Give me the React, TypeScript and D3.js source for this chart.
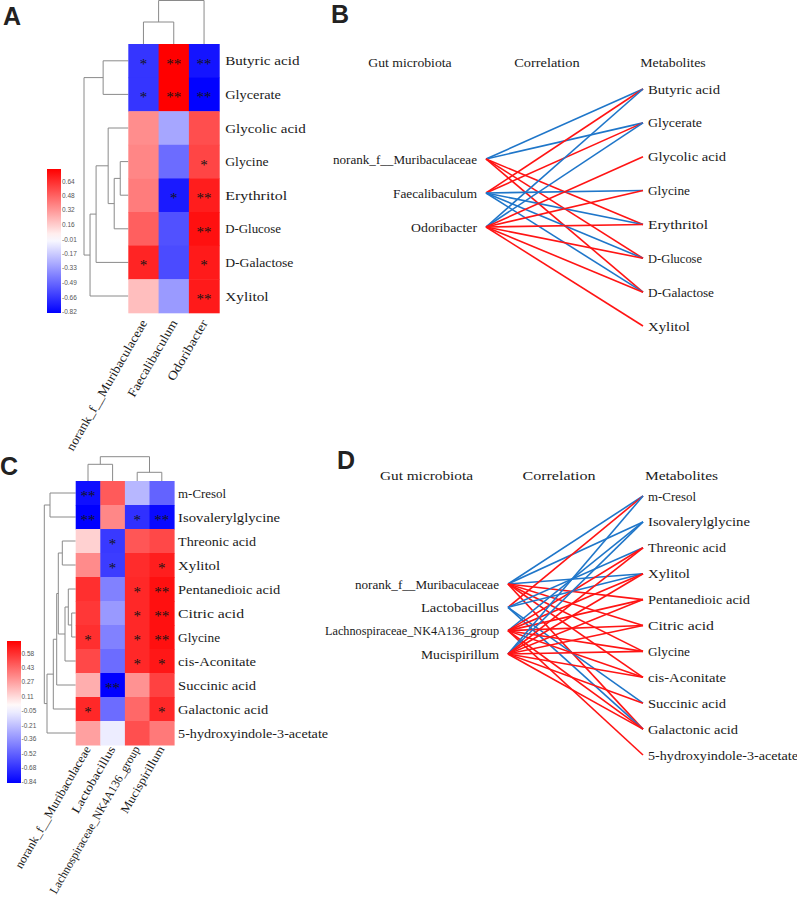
import React from "react";
import * as d3 from "d3";

// ---------------- Panel A / B data ----------------
const aMicrobes = ["norank_f__Muribaculaceae", "Faecalibaculum", "Odoribacter"];
const aMetabolites = ["Butyric acid", "Glycerate", "Glycolic acid", "Glycine", "Erythritol", "D-Glucose", "D-Galactose", "Xylitol"];
// rows = metabolites, cols = microbes
const aValues = [
  [-0.66, 0.79, -0.77],
  [-0.66, 0.79, -0.83],
  [0.35, -0.29, 0.54],
  [0.37, -0.48, 0.57],
  [0.4, -0.75, 0.69],
  [0.49, -0.57, 0.73],
  [0.67, -0.59, 0.7],
  [0.2, -0.33, 0.7],
];
const aStars = [
  ["*", "**", "**"],
  ["*", "**", "**"],
  ["", "", ""],
  ["", "", "*"],
  ["", "*", "**"],
  ["", "", "**"],
  ["*", "", "*"],
  ["", "", "**"],
];
const aTicks = [0.64, 0.48, 0.32, 0.16, -0.01, -0.17, -0.33, -0.49, -0.66, -0.82];
// linkage: [childA, childB, height]
const aRowLinks: [number, number, number][] = [
  [0, 1, 25], [3, 4, 8], [9, 5, 14], [2, 10, 20], [11, 6, 32], [12, 7, 38], [8, 13, 44],
];
const aColLinks: [number, number, number][] = [[0, 1, 22], [3, 2, 43.5]];
// network B edges: [microbe, metabolite, sign]
const bEdges: [number, number, number][] = [
  [0, 0, -1], [0, 1, -1], [0, 4, 1], [0, 5, 1], [0, 6, 1],
  [1, 0, 1], [1, 1, 1], [1, 3, -1], [1, 4, -1], [1, 5, -1], [1, 6, -1],
  [2, 0, -1], [2, 1, -1], [2, 2, 1], [2, 3, 1], [2, 4, 1], [2, 5, 1], [2, 6, 1], [2, 7, 1],
];

// ---------------- Panel C / D data ----------------
const cMicrobes = ["norank_f__Muribaculaceae", "Lactobacillus", "Lachnospiraceae_NK4A136_group", "Mucispirillum"];
const cMetabolites = ["m-Cresol", "Isovalerylglycine", "Threonic acid", "Xylitol", "Pentanedioic acid", "Citric acid", "Glycine", "cis-Aconitate", "Succinic acid", "Galactonic acid", "5-hydroxyindole-3-acetate"];
const cValues = [
  [-0.8, 0.47, -0.24, -0.52],
  [-0.85, 0.34, -0.69, -0.82],
  [0.13, -0.66, 0.48, 0.52],
  [0.33, -0.65, 0.6, 0.64],
  [0.59, -0.42, 0.61, 0.68],
  [0.57, -0.34, 0.61, 0.68],
  [0.59, -0.42, 0.61, 0.68],
  [0.52, -0.49, 0.61, 0.66],
  [0.23, -0.85, 0.31, 0.54],
  [0.61, -0.49, 0.43, 0.61],
  [0.27, -0.06, 0.5, 0.38],
];
const cStars = [
  ["**", "", "", ""],
  ["**", "", "*", "**"],
  ["", "*", "", ""],
  ["", "*", "", "*"],
  ["", "", "*", "**"],
  ["", "", "*", "**"],
  ["*", "", "*", "**"],
  ["", "", "*", "*"],
  ["", "**", "", ""],
  ["*", "", "", "*"],
  ["", "", "", ""],
];
const cTicks = [0.58, 0.43, 0.27, 0.11, -0.05, -0.21, -0.36, -0.52, -0.68, -0.84];
const cRowLinks: [number, number, number][] = [
  [5, 6, 4], [4, 11, 7.4], [12, 7, 10.7], [2, 3, 13.4], [14, 13, 17.4], [15, 8, 19], [16, 9, 22.4], [17, 10, 28.7], [0, 1, 25.7], [19, 18, 31.4],
];
const cColLinks: [number, number, number][] = [[0, 1, 16.7], [2, 3, 8.7], [4, 5, 24.3]];
const dEdges: [number, number, number][] = [
  [0, 0, -1], [0, 1, -1], [0, 3, -1], [0, 4, 1], [0, 5, 1], [0, 6, 1], [0, 7, 1], [0, 9, 1],
  [1, 0, 1], [1, 2, -1], [1, 3, -1], [1, 8, -1], [1, 9, -1],
  [2, 1, -1], [2, 2, 1], [2, 3, 1], [2, 4, 1], [2, 5, 1], [2, 6, 1], [2, 7, 1], [2, 9, 1], [2, 10, 1],
  [3, 0, -1], [3, 1, -1], [3, 2, 1], [3, 3, 1], [3, 4, 1], [3, 5, 1], [3, 6, 1], [3, 7, 1], [3, 8, 1], [3, 9, 1],
];
const headers = ["Gut microbiota", "Correlation", "Metabolites"];

const SERIF = "'Liberation Serif', 'DejaVu Serif', serif";
const SANS = "'Liberation Sans', Arial, sans-serif";
const RED = "#ff1414";
const BLUE = "#1f76c9";
const TREE = "#8a8a8a";

function dendro(leafPos: number[], links: [number, number, number][]) {
  const pos = leafPos.slice();
  const hts = leafPos.map(() => 0);
  const segs: { a: number; ha: number; b: number; hb: number; h: number }[] = [];
  for (const [i, j, h] of links) {
    segs.push({ a: pos[i], ha: hts[i], b: pos[j], hb: hts[j], h });
    pos.push((pos[i] + pos[j]) / 2);
    hts.push(h);
  }
  return segs;
}

function Txt(p: { x: number; y: number; text: string; cw: number; fs: number; anchor?: string; transform?: string; fill?: string }) {
  return (
    <text
      x={p.x}
      y={p.y}
      transform={p.transform}
      textAnchor={p.anchor || "start"}
      fontFamily={SERIF}
      fontSize={p.fs}
      fill={p.fill || "#1a1a1a"}
      textLength={p.text.length * p.cw}
      lengthAdjust="spacingAndGlyphs"
    >
      {p.text}
    </text>
  );
}

type HeatProps = {
  id: string;
  rows: string[];
  cols: string[];
  values: number[][];
  stars: string[][];
  domain: [number, number, number];
  ticks: number[];
  left: number;
  top: number;
  cellW: number;
  cellH: number;
  rowLinks: [number, number, number][];
  rowMaxH: number;
  rowTreeLeft: number;
  colLinks: [number, number, number][];
  colMaxH: number;
  colTreeTop: number;
  cbar: { x: number; y: number; w: number; h: number; labelX: number };
  cw: number;
  xcw: number;
  fs: number;
  rowLabelGap: number;
  xlabDx: number;
  xlabDy: number;
};

function HeatPanel(p: HeatProps) {
  const right = p.left + p.cellW * p.cols.length;
  const bottom = p.top + p.cellH * p.rows.length;
  const x = d3.scaleBand<number>().domain(d3.range(p.cols.length)).range([p.left, right]);
  const y = d3.scaleBand<number>().domain(d3.range(p.rows.length)).range([p.top, bottom]);
  const color = d3.scaleLinear<string>().domain(p.domain).range(["#0000ff", "#ffffff", "#ff0000"]).clamp(true);
  const rowH = d3.scaleLinear().domain([0, p.rowMaxH]).range([p.left, p.rowTreeLeft]);
  const colH = d3.scaleLinear().domain([0, p.colMaxH]).range([p.top, p.colTreeTop]);
  const rowSegs = dendro(p.rows.map((_, i) => y(i)! + y.bandwidth() / 2), p.rowLinks);
  const colSegs = dendro(p.cols.map((_, i) => x(i)! + x.bandwidth() / 2), p.colLinks);
  const cb = d3.scaleLinear().domain([p.domain[0], p.domain[2]]).range([p.cbar.y + p.cbar.h, p.cbar.y]);
  const stopVals = d3.range(0, 21).map((k) => p.domain[2] - (k / 20) * (p.domain[2] - p.domain[0]));
  return (
    <g>
      <defs>
        <linearGradient id={p.id} x1="0" y1="0" x2="0" y2="1">
          {stopVals.map((v, k) => (
            <stop key={k} offset={(cb(v) - p.cbar.y) / p.cbar.h} stopColor={color(v)} />
          ))}
        </linearGradient>
      </defs>
      {/* dendrograms */}
      {rowSegs.map((s, k) => (
        <path
          key={"r" + k}
          d={`M${rowH(s.ha)},${s.a}H${rowH(s.h)}V${s.b}H${rowH(s.hb)}`}
          fill="none"
          stroke={TREE}
          strokeWidth={1}
        />
      ))}
      {colSegs.map((s, k) => (
        <path
          key={"c" + k}
          d={`M${s.a},${colH(s.ha)}V${colH(s.h)}H${s.b}V${colH(s.hb)}`}
          fill="none"
          stroke={TREE}
          strokeWidth={1}
        />
      ))}
      {/* cells */}
      {p.values.map((row, i) =>
        row.map((v, j) => (
          <rect key={`${i}-${j}`} x={x(j)} y={y(i)} width={x.bandwidth() + 0.5} height={y.bandwidth() + 0.5} fill={color(v)} />
        ))
      )}
      {p.stars.map((row, i) =>
        row.map((s, j) =>
          s ? (
            <text
              key={`s${i}-${j}`}
              x={x(j)! + x.bandwidth() / 2}
              y={y(i)! + y.bandwidth() / 2 + 8}
              textAnchor="middle"
              fontFamily={SERIF}
              fontSize={15}
              fill="#151515"
            >
              {s}
            </text>
          ) : null
        )
      )}
      {/* row labels */}
      {p.rows.map((r, i) => (
        <Txt key={r} x={right + p.rowLabelGap} y={y(i)! + y.bandwidth() / 2 + 4.5} text={r} cw={p.cw} fs={p.fs} />
      ))}
      {/* column labels */}
      {p.cols.map((c, j) => {
        const cx = x(j)! + x.bandwidth() / 2 + p.xlabDx;
        const cy = bottom + p.xlabDy;
        return <Txt key={c} x={0} y={0} transform={`translate(${cx},${cy}) rotate(-60)`} anchor="end" text={c} cw={p.xcw} fs={p.fs} />;
      })}
      {/* colour bar */}
      <rect x={p.cbar.x} y={p.cbar.y} width={p.cbar.w} height={p.cbar.h} fill={`url(#${p.id})`} />
      {p.ticks.map((t) => (
        <text key={t} x={p.cbar.labelX} y={cb(t) + 2.3} fontFamily={SANS} fontSize={6.5} fill="#555">
          {t.toFixed(2)}
        </text>
      ))}
    </g>
  );
}

type NetProps = {
  sources: string[];
  targets: string[];
  edges: [number, number, number][];
  srcX: number;
  tgtX: number;
  srcY: d3.ScaleLinear<number, number>;
  tgtY: d3.ScaleLinear<number, number>;
  headerY: number;
  headerX: number[];
  headerCw: number;
  headerFs: number;
  cw: number;
  fs: number;
};

function Network(p: NetProps) {
  return (
    <g>
      {headers.map((h, k) => (
        <Txt key={h} x={p.headerX[k]} y={p.headerY} text={h} cw={p.headerCw} fs={p.headerFs} anchor="middle" />
      ))}
      {p.edges.map(([s, t, sign], k) => (
        <line
          key={k}
          x1={p.srcX}
          y1={p.srcY(s)}
          x2={p.tgtX}
          y2={p.tgtY(t)}
          stroke={sign > 0 ? RED : BLUE}
          strokeWidth={1.6}
        />
      ))}
      {p.sources.map((s, i) => (
        <Txt key={s} x={p.srcX - 9} y={p.srcY(i) + 4.5} text={s} cw={p.cw} fs={p.fs} anchor="end" />
      ))}
      {p.targets.map((t, i) => (
        <Txt key={t} x={p.tgtX + 5} y={p.tgtY(i) + 4.5} text={t} cw={p.cw} fs={p.fs} />
      ))}
    </g>
  );
}

function Letter({ x, y, t }: { x: number; y: number; t: string }) {
  return (
    <text x={x} y={y} fontFamily={SANS} fontWeight="bold" fontSize={25} fill="#222">
      {t}
    </text>
  );
}

export default function App() {
  const bSrcY = d3.scaleLinear().domain([0, 1]).range([159, 193]);
  const bTgtY = d3.scaleLinear().domain([0, 7]).range([89, 326]);
  const dSrcY = d3.scaleLinear().domain([0, 3]).range([584, 654]);
  const dTgtY = d3.scaleLinear().domain([0, 10]).range([496, 755]);
  return (
    <svg width={797} height={900} style={{ position: "absolute", left: 0, top: 0, background: "#fff" }}>
      <rect x={0} y={0} width={797} height={900} fill="#fff" />
      <Letter x={3} y={25} t="A" />
      <Letter x={331} y={23} t="B" />
      <Letter x={0} y={475} t="C" />
      <Letter x={337} y={469} t="D" />
      <HeatPanel
        id="gradA"
        rows={aMetabolites}
        cols={aMicrobes}
        values={aValues}
        stars={aStars}
        domain={[-0.835, 0, 0.78]}
        ticks={aTicks}
        left={128.3}
        top={44}
        cellW={30.3}
        cellH={33.6}
        rowLinks={aRowLinks}
        rowMaxH={44}
        rowTreeLeft={84}
        colLinks={aColLinks}
        colMaxH={43.5}
        colTreeTop={0.5}
        cbar={{ x: 47, y: 169, w: 14, h: 144, labelX: 62 }}
        cw={6.2}
        xcw={6.2}
        fs={12.5}
        rowLabelGap={6}
        xlabDx={4}
        xlabDy={10}
      />
      <Network
        sources={aMicrobes}
        targets={aMetabolites}
        edges={bEdges}
        srcX={486}
        tgtX={643}
        srcY={bSrcY}
        tgtY={bTgtY}
        headerY={67}
        headerX={[410, 547, 673]}
        headerCw={5.95}
        headerFs={12}
        cw={6.0}
        fs={12}
      />
      <HeatPanel
        id="gradC"
        rows={cMetabolites}
        cols={cMicrobes}
        values={cValues}
        stars={cStars}
        domain={[-0.85, 0, 0.725]}
        ticks={cTicks}
        left={75.7}
        top={481}
        cellW={24.6}
        cellH={24}
        rowLinks={cRowLinks}
        rowMaxH={31.4}
        rowTreeLeft={44.3}
        colLinks={cColLinks}
        colMaxH={24.3}
        colTreeTop={456.7}
        cbar={{ x: 7, y: 641, w: 14, h: 142, labelX: 21.5 }}
        cw={6.0}
        xcw={5.8}
        fs={12}
        rowLabelGap={4}
        xlabDx={3}
        xlabDy={4}
      />
      <Network
        sources={cMicrobes}
        targets={cMetabolites}
        edges={dEdges}
        srcX={508}
        tgtX={643}
        srcY={dSrcY}
        tgtY={dTgtY}
        headerY={480}
        headerX={[426.5, 559, 681.5]}
        headerCw={6.65}
        headerFs={13}
        cw={6.0}
        fs={12}
      />
    </svg>
  );
}
